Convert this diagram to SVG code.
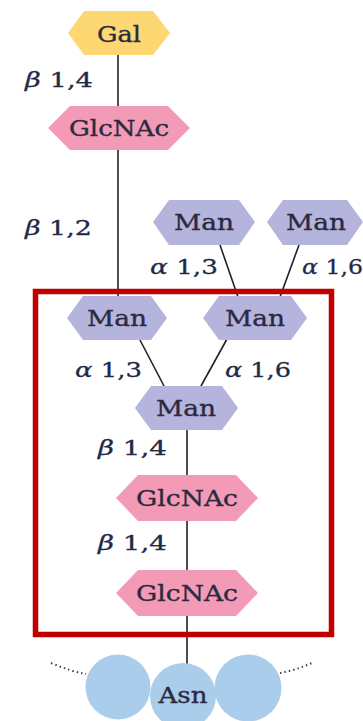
<svg xmlns="http://www.w3.org/2000/svg" width="363" height="721" viewBox="0 0 363 721">
<style>
.gal{fill:#fdd772}
.glc{fill:#f39bb6}
.man{fill:#b4b4dc}
.asn{fill:#aacdec}
.nt{font-family:"DejaVu Serif","Liberation Serif",serif;font-size:23px;fill:#2c2a40;stroke:#2c2a40;stroke-width:0.35;text-anchor:middle}
.lb{font-family:"DejaVu Serif","Liberation Serif",serif;font-size:21px;fill:#1f2a48;stroke:#1f2a48;stroke-width:0.3}
.gr{font-style:italic}
.ln{stroke:#222;stroke-width:1.6;fill:none}
.dot{stroke:#444;stroke-width:2;stroke-dasharray:1.5 3;fill:none}
</style>
<rect x="0" y="0" width="363" height="721" fill="#fff"/>
<g id="connectors">
<line class="ln" x1="118" y1="55" x2="118" y2="106"/>
<line class="ln" x1="118" y1="150" x2="118" y2="297"/>
<line class="ln" x1="220" y1="245" x2="238" y2="297"/>
<line class="ln" x1="299" y1="245" x2="280" y2="297"/>
<line class="ln" x1="140" y1="340" x2="164" y2="386"/>
<line class="ln" x1="227" y1="339" x2="201" y2="386"/>
<line class="ln" x1="187" y1="430" x2="187" y2="476"/>
<line class="ln" x1="187" y1="521" x2="187" y2="571"/>
<line class="ln" x1="187" y1="616" x2="187" y2="664"/>
<path class="dot" d="M51 663 Q70 671 86 674"/>
<path class="dot" d="M280 673 Q296 670 312 663"/>
</g>
<g id="labels">
<text class="lb" x="25" y="87" textLength="68" lengthAdjust="spacingAndGlyphs"><tspan class="gr">β</tspan> 1,4</text>
<text class="lb" x="25" y="235" textLength="67" lengthAdjust="spacingAndGlyphs"><tspan class="gr">β</tspan> 1,2</text>
<text class="lb" x="150" y="274" textLength="68" lengthAdjust="spacingAndGlyphs"><tspan class="gr">α</tspan> 1,3</text>
<text class="lb" x="302" y="274" textLength="61" lengthAdjust="spacingAndGlyphs"><tspan class="gr">α</tspan> 1,6</text>
<text class="lb" x="75" y="377" textLength="67" lengthAdjust="spacingAndGlyphs"><tspan class="gr">α</tspan> 1,3</text>
<text class="lb" x="225" y="377" textLength="66" lengthAdjust="spacingAndGlyphs"><tspan class="gr">α</tspan> 1,6</text>
<text class="lb" x="98" y="455" textLength="69" lengthAdjust="spacingAndGlyphs"><tspan class="gr">β</tspan> 1,4</text>
<text class="lb" x="98" y="550" textLength="69" lengthAdjust="spacingAndGlyphs"><tspan class="gr">β</tspan> 1,4</text>
</g>
<g id="gal">
<polygon class="gal" points="68,33 84,11 153,11 170,33 153,55 84,55"/>
<text class="nt" x="119" y="42" textLength="44" lengthAdjust="spacingAndGlyphs">Gal</text>
</g>
<g id="glcnac1">
<polygon class="glc" points="48,128 70,106 168,106 190,128 168,150 70,150"/>
<text class="nt" x="119" y="136" textLength="100" lengthAdjust="spacingAndGlyphs">GlcNAc</text>
</g>
<g id="man-outer-left">
<polygon class="man" points="153,222 169,200 239,200 255,222 239,245 169,245"/>
<text class="nt" x="204" y="230" textLength="60" lengthAdjust="spacingAndGlyphs">Man</text>
</g>
<g id="man-outer-right">
<polygon class="man" points="267,222 283,200 347,200 363,222 347,245 283,245"/>
<text class="nt" x="316" y="230" textLength="60" lengthAdjust="spacingAndGlyphs">Man</text>
</g>
<g id="core-box">
<rect x="35.5" y="291.5" width="296" height="343" fill="none" stroke="#c00000" stroke-width="5.5"/>
</g>
<g id="man-inner-left">
<polygon class="man" points="67,318 83,296 151,296 167,318 151,340 83,340"/>
<text class="nt" x="117" y="326" textLength="60" lengthAdjust="spacingAndGlyphs">Man</text>
</g>
<g id="man-inner-right">
<polygon class="man" points="203,318 219,296 291,296 307,318 291,340 219,340"/>
<text class="nt" x="255" y="326" textLength="60" lengthAdjust="spacingAndGlyphs">Man</text>
</g>
<g id="man-center">
<polygon class="man" points="135,408 151,386 222,386 238,408 222,430 151,430"/>
<text class="nt" x="186" y="416" textLength="60" lengthAdjust="spacingAndGlyphs">Man</text>
</g>
<g id="glcnac2">
<polygon class="glc" points="116,498 138,475 236,475 258,498 236,521 138,521"/>
<text class="nt" x="187" y="506" textLength="102" lengthAdjust="spacingAndGlyphs">GlcNAc</text>
</g>
<g id="glcnac3">
<polygon class="glc" points="116,593 138,570 236,570 258,593 236,616 138,616"/>
<text class="nt" x="187" y="601" textLength="102" lengthAdjust="spacingAndGlyphs">GlcNAc</text>
</g>
<g id="asn">
<circle class="asn" cx="118" cy="687" r="32.5"/>
<circle class="asn" cx="248" cy="688" r="33.5"/>
<circle class="asn" cx="183" cy="696" r="33"/>
<text class="nt" x="183" y="703" textLength="49" lengthAdjust="spacingAndGlyphs">Asn</text>
</g>
</svg>
